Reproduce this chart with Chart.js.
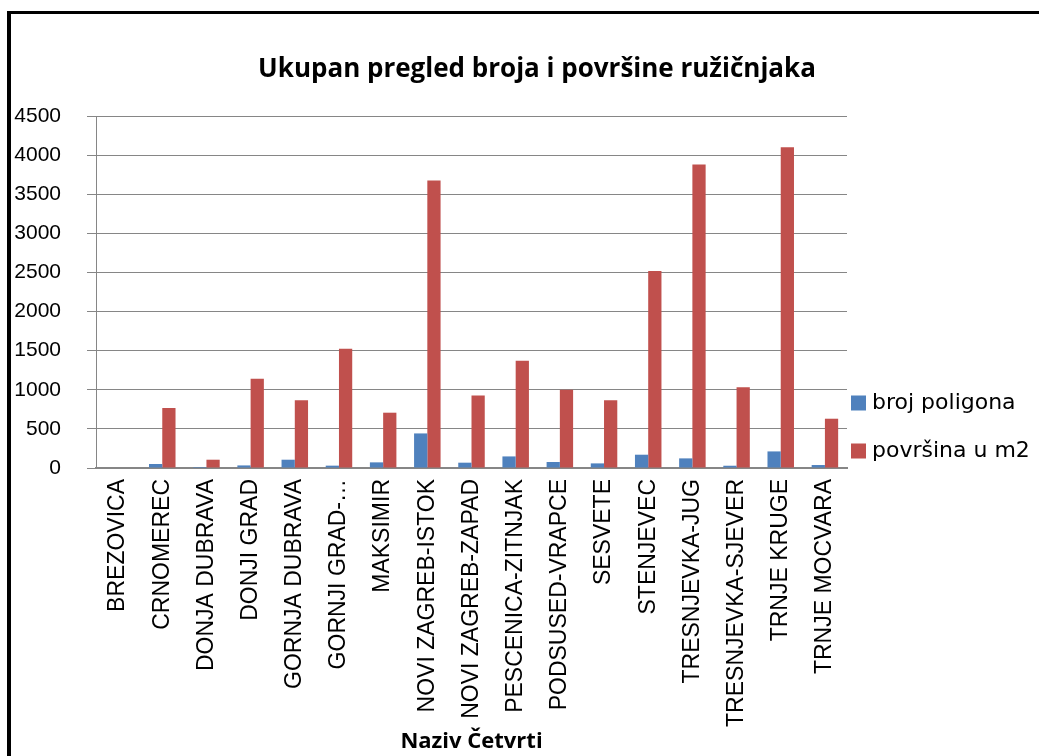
<!DOCTYPE html>
<html>
<head>
<meta charset="utf-8">
<script src="https://cdn.jsdelivr.net/npm/chart.js@4"></script>
<style>
  html, body { margin: 0; padding: 0; background: #fff; overflow: hidden; }
  #frame {
    position: absolute; left: 7px; top: 11px; width: 1200px; height: 900px;
    border-left: 4px solid #000; border-top: 3px solid #000;
  }
  #wrap { position: absolute; left: 0; top: 0; width: 1039px; height: 756px; }
</style>
</head>
<body>
<div id="frame"></div>
<div id="wrap"><canvas id="chart"></canvas></div>
<script>
// values
const categories = [
  "BREZOVICA", "CRNOMEREC", "DONJA DUBRAVA", "DONJI GRAD", "GORNJA DUBRAVA",
  "GORNJI GRAD-…", "MAKSIMIR", "NOVI ZAGREB-ISTOK", "NOVI ZAGREB-ZAPAD",
  "PESCENICA-ZITNJAK", "PODSUSED-VRAPCE", "SESVETE", "STENJEVEC",
  "TRESNJEVKA-JUG", "TRESNJEVKA-SJEVER", "TRNJE KRUGE", "TRNJE MOCVARA",
];
const brojPoligona = [0, 51, 13, 33, 106, 30, 72, 442, 68, 148, 77, 59, 170, 123, 29, 212, 38];
const povrsina = [0, 767, 106, 1140, 865, 1525, 707, 3675, 928, 1370, 1000, 865, 2518, 3880, 1031, 4100, 630];
const seriesNames = ["broj poligona", "površina u m2"];
const chartTitle = "Ukupan pregled broja i površine ružičnjaka";

const COLOR_BLUE = "#4F81BD";
const COLOR_RED = "#C0504D";
const COLOR_GRID = "#868686";

// title + legend drawn by hand: title is centred on the whole frame,
// legend sits low on the right like the original
const decorations = {
  id: "decorations",
  afterDraw(chart) {
    const ctx = chart.ctx;
    ctx.save();
    ctx.fillStyle = "#000";
    ctx.font = "bold 26px 'Open Sans'";
    ctx.textAlign = "center";
    ctx.textBaseline = "middle";
    ctx.fillText(chartTitle, 537, 70);

    ctx.font = "22px 'DejaVu Sans'";
    ctx.textAlign = "left";
    chart.data.datasets.forEach((ds, i) => {
      const cy = 403 + i * 48;
      ctx.fillStyle = ds.backgroundColor;
      ctx.fillRect(851, cy - 7.5, 15, 15);
      ctx.fillStyle = "#000";
      ctx.fillText(ds.label, 872, cy);
    });
    ctx.restore();
  },
};

new Chart(document.getElementById("chart"), {
  type: "bar",
  data: {
    labels: categories,
    datasets: [
      { label: seriesNames[0], data: brojPoligona, backgroundColor: COLOR_BLUE },
      { label: seriesNames[1], data: povrsina, backgroundColor: COLOR_RED },
    ],
  },
  options: {
    responsive: true,
    maintainAspectRatio: false,
    animation: false,
    layout: { padding: { top: 116, left: 0, right: 192, bottom: 0 } },
    datasets: { bar: { categoryPercentage: 0.6, barPercentage: 1 } },
    plugins: {
      legend: { display: false },
      tooltip: { enabled: false },
      title: { display: false },
    },
    scales: {
      x: {
        grid: { display: false },
        border: { display: true, color: COLOR_GRID, width: 2 },
        ticks: {
          color: "#000",
          font: { family: "'Liberation Sans'", size: 23 },
          minRotation: 90,
          maxRotation: 90,
          autoSkip: false,
          padding: 3,
        },
        title: {
          display: true,
          text: "Naziv Četvrti",
          color: "#000",
          font: { family: "'Open Sans'", size: 22, weight: "bold", lineHeight: 1.2 },
          padding: { top: 0, bottom: 1 },
        },
        afterFit(s) { s.height = 288; },
      },
      y: {
        min: 0,
        max: 4500,
        grid: { color: COLOR_GRID, lineWidth: 1, drawTicks: true, tickLength: 9 },
        border: { display: true, color: COLOR_GRID, width: 1 },
        ticks: {
          stepSize: 500,
          color: "#000",
          font: { family: "'Liberation Sans'", size: 21 },
          padding: 26,
          callback: (v) => String(v),
        },
        afterFit(s) { s.width = 96; },
      },
    },
  },
  plugins: [decorations],
});
</script>
</body>
</html>
